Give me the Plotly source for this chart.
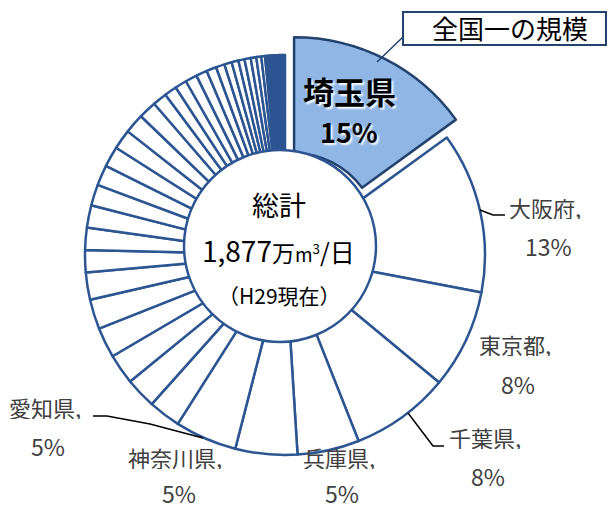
import plotly.graph_objects as go

W, H = 613, 507

# ---------------- data ----------------
main_labels = ["埼玉県", "大阪府", "東京都", "千葉県", "兵庫県", "神奈川県", "愛知県"]
main_values = [15, 13, 8, 8, 5, 5, 5]
main_pct_text = ["15%", "13%", "8%", "8%", "5%", "5%", "5%"]

other_values = [2.6, 2.5, 2.45, 2.45, 2.4, 2.2, 1.8, 1.8, 1.8, 1.7,
                1.65, 1.65, 1.6, 1.6, 1.45, 1.15, 1.0, 0.95, 0.95, 0.9,
                0.8, 0.7, 0.6, 0.55, 0.5, 0.5, 0.45, 0.4, 0.3,
                0.145, 0.145, 0.145, 0.145, 0.145, 0.145, 0.145, 0.145,
                0.145, 0.145, 0.145]
other_labels = ["その他" + str(i + 1) for i in range(len(other_values))]

total_text = "総計"
total_value_text = "1,877"
date_text = "（H29現在）"
callout_text = "全国一の規模"

# ---------------- styling ----------------
BLUE = "#2C5592"
DARK = "#23426E"
SAITAMA_FILL = "#90B6E6"
LABEL_COLOR = "#404040"
FONT = "Noto Sans CJK JP"


def px(x):
    return x / W


def py(y):
    return 1 - y / H


values = main_values + other_values
labels = main_labels + other_labels
colors = [SAITAMA_FILL] + ["white"] * (len(values) - 1)
line_colors = [DARK] + [BLUE] * (len(values) - 1)
pulls = [0.1] + [0] * (len(values) - 1)

cx, cy, R = 285, 255, 200
half = R * 1.1

fig = go.Figure()
fig.add_trace(go.Pie(
    values=values, labels=labels, sort=False, direction="clockwise",
    rotation=0, hole=0.42, pull=pulls,
    marker=dict(colors=colors, line=dict(color=line_colors, width=2.5)),
    textinfo="none", hoverinfo="skip", showlegend=False,
    domain=dict(x=[px(cx - half), px(cx + half)], y=[py(cy + half), py(cy - half)]),
))

shapes = []
# centre circle (text box)
ccx, ccy, cr = 280, 246, 96
shapes.append(dict(type="circle", xref="paper", yref="paper",
                   x0=px(ccx - cr), x1=px(ccx + cr), y0=py(ccy + cr), y1=py(ccy - cr),
                   fillcolor="white", line=dict(color=BLUE, width=2.5), layer="above"))
# callout box
shapes.append(dict(type="rect", xref="paper", yref="paper",
                   x0=px(403), x1=px(606), y0=py(45), y1=py(12),
                   fillcolor="white", line=dict(color=DARK, width=2), layer="above"))
shapes.append(dict(type="line", xref="paper", yref="paper",
                   x0=px(377), y0=py(62), x1=px(403), y1=py(37),
                   line=dict(color=DARK, width=1.5), layer="above"))


def leader(points):
    d = "M " + " L ".join(f"{px(x)},{py(y)}" for x, y in points)
    return dict(type="path", xref="paper", yref="paper", path=d,
                line=dict(color="black", width=1.5), layer="above")


shapes.append(leader([(480, 210), (493, 215), (505, 215)]))
shapes.append(leader([(408, 413), (433, 446), (444, 446)]))
shapes.append(leader([(93, 416), (107, 416), (150, 424), (203, 438)]))

annotations = []


def ann(text, x, y, size, color=LABEL_COLOR, xanchor="center", weight=None,
        shadow=None, height=None):
    f = dict(family=FONT, size=size, color=color)
    if weight:
        f["weight"] = weight
    if shadow:
        f["shadow"] = shadow
    a = dict(text=text, x=px(x), y=py(y), xref="paper", yref="paper",
             showarrow=False, xanchor=xanchor, yanchor="middle", font=f)
    if height:
        a["height"] = height
    annotations.append(a)


# Saitama label
ann(main_labels[0], 349, 90, 31, color="black", weight="bold",
    shadow="2px 2px 2px rgba(255,255,255,0.95)")
ann(main_pct_text[0], 349, 131, 27, color="black", weight="bold",
    shadow="2px 2px 2px rgba(255,255,255,0.95)")

# other labels: (name x-left, name y, pct x-center, pct y)
label_pos = {
    1: (507, 207, 548, 246),
    2: (477, 344, 518, 384),
    3: (447, 437, 488, 476),
    4: (301, 457, 342, 493),
    5: (126, 457, 179, 493),
    6: (7, 407, 48, 446),
}
for i, (lx, ly, vx, vy) in label_pos.items():
    ann(main_labels[i] + ",", lx, ly, 22, xanchor="left", height=24)
    ann(main_pct_text[i], vx, vy, 23, height=22)

# centre text
ann(total_text, 279, 204, 27, color="black")
ann(total_value_text
    + "<span style='font-size:23px'>万</span>"
    + "<span style='font-size:19px'>m<sup>3</sup></span>"
    + "<span style='font-size:25px'>/日</span>",
    278, 250, 28, color="black")
ann(date_text, 279, 295, 21, color="black")

# callout text
ann(callout_text, 510, 28, 26, color="black")

fig.update_layout(
    width=W, height=H, margin=dict(l=0, r=0, t=0, b=0),
    paper_bgcolor="white", plot_bgcolor="white",
    shapes=shapes, annotations=annotations,
    font=dict(family=FONT),
)

fig.write_html("out.html", config={"displayModeBar": False},
               post_script="document.body.style.margin='0';document.body.style.padding='0';")
